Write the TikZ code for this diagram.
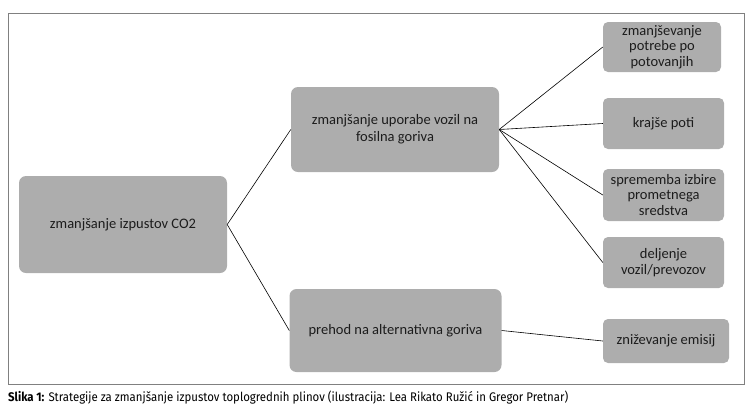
\documentclass[tikz,border=0pt]{standalone}
\usepackage{fontspec}
\usepackage{graphicx}
\setmainfont{Carlito}
\newfontfamily\capfont{Fira Sans}
\definecolor{boxgray}{HTML}{ADADAD}
\definecolor{framegray}{HTML}{808080}
\definecolor{txt}{HTML}{1C1C1C}
\begin{document}
\begin{tikzpicture}[x=1pt,y=-1pt,
  box/.style={fill=boxgray, draw=none, rounded corners=7pt, inner sep=0pt, align=center,
    text=txt, font=\fontsize{14.5}{17}\selectfont},
  small/.style={box, rounded corners=5pt, font=\fontsize{14.5}{15.5}\selectfont},
  link/.style={draw=black, line width=0.6pt}]
\useasboundingbox (0,0) rectangle (755,416);
\draw[framegray, line width=1pt] (8,13) rectangle (744,384);
\node[box, minimum width=208pt, minimum height=97pt] (root) at (123,224.5) {zmanjšanje izpustov CO2};
\node[box, minimum width=208pt, minimum height=85pt] (mid1) at (395,129.5) {zmanjšanje uporabe vozil na\\fosilna goriva};
\node[box, minimum width=212pt, minimum height=83pt] (mid2) at (395.5,330.5) {prehod na alternativna goriva};
\node[small, minimum width=118pt, minimum height=50pt] (r1) at (662,47) {zmanjševanje\\potrebe po\\potovanjih};
\node[small, minimum width=121pt, minimum height=51pt] (r2) at (663.5,123.5) {krajše poti};
\node[small, minimum width=121pt, minimum height=52pt] (r3) at (663.5,195) {sprememba izbire\\prometnega\\sredstva};
\node[small, minimum width=121pt, minimum height=51pt] (r4) at (663.5,262.5) {deljenje\\vozil/prevozov};
\node[small, minimum width=126pt, minimum height=44pt] (r5) at (666,341) {zniževanje emisij};
\draw[link] (root.east) -- (mid1.west);
\draw[link] (root.east) -- (mid2.west);
\draw[link] (mid1.east) -- (r1.west);
\draw[link] (mid1.east) -- (r2.west);
\draw[link] (mid1.east) -- (r3.west);
\draw[link] (mid1.east) -- (r4.west);
\draw[link] (mid2.east) -- (r5.west);
\node[anchor=base west, inner sep=0pt] (cap) at (8,401.5) {\resizebox{560pt}{\height}{\capfont\fontsize{12.5}{14}\selectfont\textbf{Slika 1:} Strategije za zmanjšanje izpustov toplogrednih plinov (ilustracija: Lea Rikato Ružić in Gregor Pretnar)}};
\end{tikzpicture}
\end{document}
